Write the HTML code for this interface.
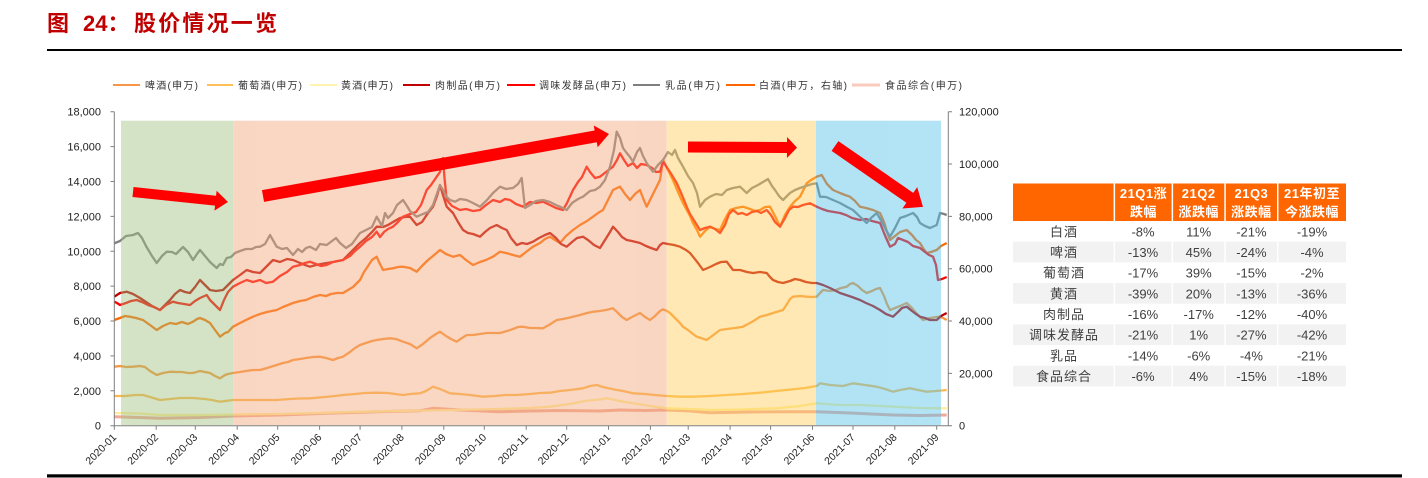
<!DOCTYPE html>
<html><head><meta charset="utf-8"><style>
html,body{margin:0;padding:0;background:#fff;}
svg{display:block;}
text{font-family:"Liberation Sans","Noto Sans CJK SC",sans-serif;}
</style></head><body>
<svg width="1428" height="478" viewBox="0 0 1428 478" xmlns="http://www.w3.org/2000/svg">
<!-- Title -->
<text x="47" y="31" font-size="22" font-weight="bold" fill="#c00000">图</text>
<text x="83" y="31" font-size="22" font-weight="bold" fill="#c00000">24：</text>
<text x="134" y="31" font-size="22" font-weight="bold" fill="#c00000" textLength="143" lengthAdjust="spacing">股价情况一览</text>
<rect x="47" y="49" width="1355" height="2" fill="#000"/>
<rect x="47" y="474.3" width="1355" height="3.2" fill="#000"/>

<!-- Legend -->
<g font-size="10" fill="#333">
<line x1="113" y1="85" x2="140" y2="85" stroke="#f79646" stroke-width="2"/>
<text x="145" y="89" textLength="53" lengthAdjust="spacing">啤酒(申万)</text>
<line x1="207" y1="85" x2="233" y2="85" stroke="#fdc05a" stroke-width="2"/>
<text x="238" y="89" textLength="64" lengthAdjust="spacing">葡萄酒(申万)</text>
<line x1="310" y1="85" x2="337" y2="85" stroke="#fff3b0" stroke-width="2"/>
<text x="341" y="89" textLength="52" lengthAdjust="spacing">黄酒(申万)</text>
<line x1="403" y1="85" x2="430" y2="85" stroke="#c00000" stroke-width="2"/>
<text x="435" y="89" textLength="65" lengthAdjust="spacing">肉制品(申万)</text>
<line x1="507" y1="85" x2="535" y2="85" stroke="#ff0000" stroke-width="2"/>
<text x="539" y="89" textLength="87" lengthAdjust="spacing">调味发酵品(申万)</text>
<line x1="633" y1="85" x2="660" y2="85" stroke="#7f7f7f" stroke-width="2"/>
<text x="665" y="89" textLength="55" lengthAdjust="spacing">乳品(申万)</text>
<line x1="726" y1="85" x2="755" y2="85" stroke="#ff6600" stroke-width="2"/>
<text x="759" y="89" textLength="88" lengthAdjust="spacing">白酒(申万，右轴)</text>
<line x1="852" y1="85" x2="880" y2="85" stroke="#f8cbbd" stroke-width="3"/>
<text x="885" y="89" textLength="77" lengthAdjust="spacing">食品综合(申万)</text>
</g>

<!-- Series -->
<g fill="none" stroke-width="2.3" stroke-linejoin="round">
<polyline stroke="#f2a898" stroke-width="3" points="114.3,416.7 140,417.5 160,418.3 200,417.5 233,416 280,415 326.7,413.3 376.7,411.7 420,410.7 433,408.3 460,410 500,411.7 530,411 560,410.5 600,411 620,410 645,410.5 666.7,410 690,411 710,412.7 750,412 793,411.7 816.7,411.7 850,413 893,415 920,415.5 946.7,415"/>
<polyline stroke="#ffee9a" points="114.3,413 140,413.5 160,415 200,415 233,414.5 280,414 320,413 360,411.7 400,411 450,410 500,409 530,408 550,406.7 570,404 585,401 593,400 600,399.5 606.7,398.3 615,400 625,402 633,403.3 650,406 666.7,408.3 690,409 710,410 740,409.5 776.7,408.3 800,406 816.7,403.3 825,404 840,405 860,405 880,406 900,407 920,408 946.7,408.3"/>
<polyline stroke="#fdb94e" points="114.3,396 125,396 135,395 143,395 150,397 160,400 170,399 180,398 193,398 205,399 212,400 220,401.7 233,400 250,400 265,400 276.7,400 290,399 300,398.5 310,398.3 325,397 335,396 343,395 355,394 365,393 376.7,392.7 388,393 395,394 403,395 410,394 420,393.3 426,391 433,386.7 440,389 450,393.3 460,394 470,395 483,396.7 495,396 505,395 516.7,395 530,394 540,393 550,392.7 560,391 570,390 583,388.3 590,386 596.7,385 603,387 613,389.3 623,391 633,393.3 645,394 655,395 666.7,396 680,396.7 693,396.7 710,396 726.7,395 743,394 760,392.7 776,391 793,389.3 805,388 816.7,386 820,383.3 830,385 843,386 853,383.3 865,385 876.7,386.7 885,389 893,391.7 900,390 910,388.3 918,390 926.7,391.7 936,391 946.7,390"/>
<polyline stroke="#f8963c" points="114.3,366.7 120,366 126,367 133,366.7 140,366 145,367 150,371 156.7,375 163,373 170,371.7 176,372 182,372 188,373 193,373 200,371 205,372 210,373 215,376 220,378.3 225,375 228,374 233,373 240,372 246,371 253,370 260,370 267,368 276.7,365 283,363 288,362 293,360 300,359 306,358 313,357 320,356.7 326,358 333,360 338,358 343,356.7 350,352 355,348 360,345 366,343 372,341 376.7,340 383,339 390,338.3 396,339 403,341.7 410,344 416.7,348.3 423,344 430,338 436,334 440,331.7 446,336 451,339 456.7,341.7 462,338 466.7,335 473,335 480,334 487,333 493,333 500,333 507,331 513,329 518,327 523,326.7 530,328 536,328 543,328.3 549,325 556.7,320 563,319 568,318 573,316.7 580,315 587,313 593,311.7 600,311 606,310 613,308.3 617,312 622,317 626.7,320 632,317 636,315 640,313 645,317 650,320 655,316 660,311 663,309.3 667,311 670,313 675,318 679,322 683,326.7 688,330 693,334 696.7,336.7 701,338 706.7,340 712,336 716,333 720,330 727,329 735,328 743,326.7 750,323 755,320 760,316.7 767,315 773,313 783,310 787,304 790,299 793,296.7 800,296 806.7,296.7 812,297 816.7,296.7 820,293 823,290 830,291 836,290 841,288 846.7,286.7 850,284 853,283 858,286 862,290 866.7,293 872,291 876,289 880,288 884,296 887,304 890,310 895,308 900,306 906.7,303 912,308 917,314 923,320 930,318 936,317 940,316.7 943,318 946.7,320"/>
<polyline stroke="#ff6a00" points="114.3,320 120,318 125,316 130,316.7 136,318 143,320 150,325 156.7,330 163,326 170,323 176,324 182,322 188,324 193,321.7 197,319 200,318 205,320 210,323 215,330 220,336.7 225,333 228,332 233,326.7 240,323 246,320 253,316.7 260,314 267,312 276.7,310 283,307 288,305 293,303 300,301 306,300 313,297 320,295 326,296 331,294 337,293 343,293 348,290 353,287 360,280 364,272 368,266 372,260 376.7,256.7 379,262 383,270 388,269 393,268.3 398,267 403,266.7 410,268 416.7,271.7 422,266 428,260 433,256 440,250 446,254 453,256.7 460,255 466,260 473,265 480,262 486,260 493,256.7 500,251.7 506,253 513,255 520,256.7 526,252 533,246.7 540,243 545,239 550,236.7 555,240 560,243 566,236 573,230 580,225 587,221 593,216.7 598,213 603,210 608,200 613,190 617,188 620,186.7 625,194 630,200 635,194 640,190 643,198 646.7,206.7 650,200 655,190 660,180 663,160 668,170 673,180 678,192 683,203 686.7,210 690,216 693,223 697,230 700,236.7 705,231 710,226.7 715,229 720,230 725,219 730,210 736,208 743,206.7 750,209 755,211 760,210 765,207 770,206.7 775,216 780,226.7 785,215 790,206.7 795,201 800,196.7 806.7,183.3 811,180 816.7,176.7 821.7,175 827,184 833,190 840,193 845,195 850,196.7 855,201 860,206.7 866,208 873,210 880,213 884,222 887,232 890,240 895,236 900,232 906.7,230 912,235 916,240 920,243 923,248 926.7,253 931,252 936.7,250 941,246 946.7,243"/>
<polyline stroke="#c00000" points="114.3,296.7 120,293 126.7,291.7 133,294 140,298 146,302 152,306 156,308 160,310 165,305 170,300 175,294 180,290 185,292 190,293 195,287 200,280 205,285 210,290 216,291 223,290 228,285 233,280 240,275 246.7,270 253,272 260,273 266,267 273,260 280,262 287,259 293,260 300,263 305,265 310,266.7 316,265 321,264 326.7,263 333,262 338,261 343,260 350,253 355,248 360,243 366,238 372,232 376.7,226.7 383,227 388,225 393,222 400,218 405,217 410,216.7 416.7,225 422,222 428,213 433,206.7 437,196 440,185 443,195 446.7,206.7 450,210 453,213 458,222 463,230 468,233 473,234 480,236.7 485,232 490,228 496.7,225 502,228 506.7,230 511,238 516.7,245 522,243 527,244 533,241.7 539,238 545,235 550,233 556,238 561,244 566.7,246.7 572,242 577,238 583,236.7 588,240 594,245 600,248 605,240 610,232 613,226.7 618,232 622,237 626.7,240 632,241 636,242 640,243 646,246 651,248 656.7,250 660,245 663,243 668,244 674,245 680,246.7 686,250 690,253 693,256.7 698,263 703,270 710,267 716,264 721,262 726.7,261.7 730,266 733,270 740,270 747,272 753,273 760,272 766.7,273 770,277 773,280 778,282 783,283 790,281 795,279 800,280 806,282 812,283 816.7,283 823,285 830,288 836,291 840,293 846,295 852,297 860,300 866,303 873,306 880,310 886,314 893,316.7 898,312 902,308 906.7,306.7 912,311 916,314 920,316.7 925,318 930,320 936.7,320 941,316 946.7,313"/>
<polyline stroke="#ff0000" points="114.3,301.7 117,303 120,305 126,303 131,301 136.7,300 142,302 148,305 154,307 160,310 166,305 173,301.7 178,303 184,304 190,305 195,301 200,298 206.7,295 210,300 215,305 220,310 224,300 228,292 233,286.7 240,283 246.7,280 253,282 260,280 266,283 273,281.7 280,276 287,272 293,266.7 300,265 305,263 310,261.7 316,264 321,266 326.7,265 333,262 338,261 343,260 350,256 355,251 360,246.7 366,241 372,237 376.7,231.7 380,237 384,232 388,229 393,226.7 398,222 403,216.7 410,214 416,212 421,205 426.7,190 431,185 436.7,176.7 440,172 443,158 444.5,178 446.7,200 452,206 460,210 466,209 473,211 480,210 486,205 493,200 500,202 505,199 510,200 516,204 523,206.7 530,202 536,203 543,201.7 550,205 556,208 563,210 567,203 573,190 578,182 582,177 586.7,166.7 590,172 595,178 600,176.7 606,172 613,166.7 617,160 620,153.3 624,160 628,166 633,163 637,168 641,164 646.7,165 652,168 656,172 660,171.7 663,161.7 666,166 670,172 676.7,183 682,195 686.7,206.7 690,214 695,222 700,230 705,228 710,226.7 715,229 720,233 725,225 729,214 733,210 738,214 742,213 746.7,215 752,212 757,211 761,213 766.7,210 771,215 775,222 780,226.7 785,218 789,210 793,206.7 798,207 803,205 810,203.3 816.7,206.7 822,209 828,211 834,212 840,213 846,215 852,218 860,220 866,219 872,221 880,223 884,233 887,240 890,246.7 895,244 898,238 903,240 908,242 913,246 920,248 925,252 929,255 933,256.7 936,265 938,280 942,279 946.7,277"/>
<polyline stroke="#808080" points="114.3,243.3 120,241 126,236 133,235 138,233 142,238 146,246 152,256 156.7,263 162,256 166.7,251.7 172,252 176,254 183,247 188,252 193,260 197,254 200,250 205,256 210,262 216.7,268 220,264 223,265 226.7,258 231,257 235,253 240,251 246,249 252,249 256,247 260,246.7 265,244 270,235 276.7,246.7 282,249 287,248 293,255 298,249 302,252 306,248 310,246.7 316,250 320,244 326.7,245 332,241 336,238 340,243 346,248 352,244 360,233 366,230 372,227 376.7,216.7 382,226 385,213 388,218 393,213 397,205 403,200 407,206 410,211 416.7,216.7 423,214 428,212 433,205 440,185 443,190 446.7,197 450,200 455,201.7 460,199 466.7,200 473,203 480,206.7 487,200 493,193 500,186.7 506,189 513,188 518,184 521.7,178 523,190 525,208 530,205 536,201 543,200 550,202 556,205 560,206.7 566.7,210 572,203 578,199 583,196.7 590,191 595,190 600,186.7 605,180 610,166.7 614,150 616.7,131.7 620,138 623,148 626.7,153 630,157 633,161.7 637,152 640,148 643,156 646.7,163 650,168 653,171.7 658,165 663,160 668,152 672,155 675,150 678,158 683,166.7 688,176 693,183 697,193 700,206.7 705,200 710,196.7 716,194 722,195 726.7,190 733,188 740,186.7 746.7,193 752,188 758,185 763,182 768,179 772,186 775,190 779,196 783,200 790,193 795,190 800,188 806,186 812,184 816.7,183.3 820,196.7 826,197 833,200 840,203 846.7,206.7 853,210 860,216.7 866.7,223 871,218 876.7,213 882,222 886,230 890,236.7 895,228 900,218 906,216 913,213 917,217 920,223 925,226 930,228 936.7,225 940,213 944,214 946.7,215"/>
</g>

<!-- Shaded periods (overlay) -->
<g opacity="0.45">
<rect x="121" y="120.7" width="112.3" height="304.5" fill="rgb(162,193,128)"/>
<rect x="233.3" y="120.7" width="433.4" height="304.5" fill="rgb(242,166,119)"/>
<rect x="666.7" y="120.7" width="149.3" height="304.5" fill="rgb(255,206,88)"/>
<rect x="816" y="120.7" width="125" height="304.5" fill="rgb(84,195,235)"/>
</g>

<!-- Axes -->
<g stroke="#7f7f7f" stroke-width="1" fill="none">
<line x1="114.3" y1="111.7" x2="114.3" y2="425.7"/>
<line x1="948.3" y1="111.7" x2="948.3" y2="425.7"/>
<line x1="114.3" y1="425.7" x2="948.3" y2="425.7"/>
<path d="M110.5,425.7H114.3M110.5,390.8H114.3M110.5,355.9H114.3M110.5,321H114.3M110.5,286.1H114.3M110.5,251.3H114.3M110.5,216.4H114.3M110.5,181.5H114.3M110.5,146.6H114.3M110.5,111.7H114.3"/>
<path d="M948.3,425.7H952M948.3,373.4H952M948.3,321H952M948.3,268.7H952M948.3,216.4H952M948.3,164H952M948.3,111.7H952"/>
<path d="M114.3,425.7V429.7M156.2,425.7V429.7M195.3,425.7V429.7M237.2,425.7V429.7M277.7,425.7V429.7M319.6,425.7V429.7M360.1,425.7V429.7M401.9,425.7V429.7M443.8,425.7V429.7M484.3,425.7V429.7M526.2,425.7V429.7M566.7,425.7V429.7M608.5,425.7V429.7M650.4,425.7V429.7M688.2,425.7V429.7M730.1,425.7V429.7M770.6,425.7V429.7M812.5,425.7V429.7M853,425.7V429.7M894.8,425.7V429.7M936.7,425.7V429.7"/>
</g>
<g font-size="11" fill="#222" text-anchor="end">
<text x="101" y="429.7">0</text>
<text x="101" y="394.8">2,000</text>
<text x="101" y="359.9">4,000</text>
<text x="101" y="325">6,000</text>
<text x="101" y="290.1">8,000</text>
<text x="101" y="255.3">10,000</text>
<text x="101" y="220.4">12,000</text>
<text x="101" y="185.5">14,000</text>
<text x="101" y="150.6">16,000</text>
<text x="101" y="115.7">18,000</text>
</g>
<g font-size="11" fill="#222">
<text x="959" y="429.7">0</text>
<text x="959" y="377.4">20,000</text>
<text x="959" y="325">40,000</text>
<text x="959" y="272.7">60,000</text>
<text x="959" y="220.4">80,000</text>
<text x="959" y="168">100,000</text>
<text x="959" y="115.7">120,000</text>
</g>
<g font-size="10.5" fill="#222" text-anchor="end">
<text transform="translate(117,438) rotate(-45)">2020-01</text>
<text transform="translate(158.9,438) rotate(-45)">2020-02</text>
<text transform="translate(198,438) rotate(-45)">2020-03</text>
<text transform="translate(239.9,438) rotate(-45)">2020-04</text>
<text transform="translate(280.4,438) rotate(-45)">2020-05</text>
<text transform="translate(322.3,438) rotate(-45)">2020-06</text>
<text transform="translate(362.8,438) rotate(-45)">2020-07</text>
<text transform="translate(404.6,438) rotate(-45)">2020-08</text>
<text transform="translate(446.5,438) rotate(-45)">2020-09</text>
<text transform="translate(487,438) rotate(-45)">2020-10</text>
<text transform="translate(528.9,438) rotate(-45)">2020-11</text>
<text transform="translate(569.4,438) rotate(-45)">2020-12</text>
<text transform="translate(611.2,438) rotate(-45)">2021-01</text>
<text transform="translate(653.1,438) rotate(-45)">2021-02</text>
<text transform="translate(690.9,438) rotate(-45)">2021-03</text>
<text transform="translate(732.8,438) rotate(-45)">2021-04</text>
<text transform="translate(773.3,438) rotate(-45)">2021-05</text>
<text transform="translate(815.2,438) rotate(-45)">2021-06</text>
<text transform="translate(855.7,438) rotate(-45)">2021-07</text>
<text transform="translate(897.5,438) rotate(-45)">2021-08</text>
<text transform="translate(939.4,438) rotate(-45)">2021-09</text>
</g>

<!-- Arrows -->
<g fill="#ff0000">
<g transform="translate(133,192) rotate(6)"><polygon points="0,-5 83,-5 83,-10 95.5,0 83,10 83,5 0,5"/></g>
<g transform="translate(263,196) rotate(-10.16)"><polygon points="0,-6 338,-6 338,-11 351.5,0 338,11 338,6 0,6"/></g>
<g transform="translate(688,147) rotate(0.3)"><polygon points="0,-5.5 99,-5.5 99,-10.5 109,0 99,10.5 99,5.5 0,5.5"/></g>
<g transform="translate(835,146) rotate(34.7)"><polygon points="0,-6 91,-6 91,-13 107,0 91,13 91,6 0,6"/></g>
</g>

<!-- Table -->
<g>
<rect x="1013" y="183.5" width="333" height="37.5" fill="#ff6600"/>
<rect x="1013" y="241.7" width="333" height="20.7" fill="#f2f2f2"/>
<rect x="1013" y="283" width="333" height="20.7" fill="#f2f2f2"/>
<rect x="1013" y="324.3" width="333" height="20.7" fill="#f2f2f2"/>
<rect x="1013" y="365.7" width="333" height="20.7" fill="#f2f2f2"/>
<g fill="#fff">
<rect x="1113.6" y="183" width="1.5" height="204"/>
<rect x="1171.6" y="183" width="1.5" height="204"/>
<rect x="1224.3" y="183" width="1.5" height="204"/>
<rect x="1277" y="183" width="1.5" height="204"/>
</g>
<g font-size="13" font-weight="bold" fill="#fff" text-anchor="middle" letter-spacing="0.5">
<text x="1143.5" y="198">21Q1涨</text>
<text x="1143.5" y="216.5">跌幅</text>
<text x="1198.7" y="198">21Q2</text>
<text x="1198.7" y="216.5">涨跌幅</text>
<text x="1251.4" y="198">21Q3</text>
<text x="1251.4" y="216.5">涨跌幅</text>
<text x="1312" y="198">21年初至</text>
<text x="1312" y="216.5">今涨跌幅</text>
</g>
<g font-size="13" fill="#404040" text-anchor="middle">
<g letter-spacing="1">
<text x="1064" y="236.3">白酒</text>
<text x="1064" y="257">啤酒</text>
<text x="1064" y="277.6">葡萄酒</text>
<text x="1064" y="298.3">黄酒</text>
<text x="1064" y="319">肉制品</text>
<text x="1064" y="339.6">调味发酵品</text>
<text x="1064" y="360.3">乳品</text>
<text x="1064" y="381">食品综合</text>
</g>
<text x="1143" y="236.3">-8%</text><text x="1198.7" y="236.3">11%</text><text x="1251.4" y="236.3">-21%</text><text x="1312" y="236.3">-19%</text>
<text x="1143" y="257">-13%</text><text x="1198.7" y="257">45%</text><text x="1251.4" y="257">-24%</text><text x="1312" y="257">-4%</text>
<text x="1143" y="277.6">-17%</text><text x="1198.7" y="277.6">39%</text><text x="1251.4" y="277.6">-15%</text><text x="1312" y="277.6">-2%</text>
<text x="1143" y="298.3">-39%</text><text x="1198.7" y="298.3">20%</text><text x="1251.4" y="298.3">-13%</text><text x="1312" y="298.3">-36%</text>
<text x="1143" y="319">-16%</text><text x="1198.7" y="319">-17%</text><text x="1251.4" y="319">-12%</text><text x="1312" y="319">-40%</text>
<text x="1143" y="339.6">-21%</text><text x="1198.7" y="339.6">1%</text><text x="1251.4" y="339.6">-27%</text><text x="1312" y="339.6">-42%</text>
<text x="1143" y="360.3">-14%</text><text x="1198.7" y="360.3">-6%</text><text x="1251.4" y="360.3">-4%</text><text x="1312" y="360.3">-21%</text>
<text x="1143" y="381">-6%</text><text x="1198.7" y="381">4%</text><text x="1251.4" y="381">-15%</text><text x="1312" y="381">-18%</text>
</g>
</g>
</svg>
</body></html>
